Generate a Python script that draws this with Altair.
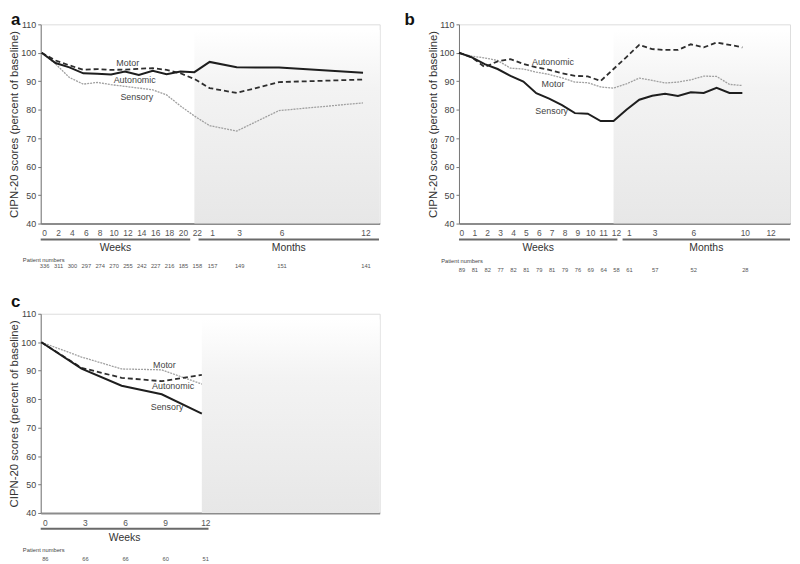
import altair as alt
import pandas as pd

FONT = "Liberation Sans"

# ---------------- Panel a (x index: weeks, then months) ----------------
a_x = [0, 2, 4, 6, 8, 10, 12, 14, 16, 18, 20, 22, 24.2, 28.1, 34.2, 46.3]
a_ticks = ["0", "2", "4", "6", "8", "10", "12", "14", "16", "18", "20", "22", "1", "3", "6", "12"]
a_motor = [100, 96.4, 94.9, 92.8, 92.6, 92.4, 93.4, 92.2, 93.7, 92.5, 93.4, 93.2, 96.8, 94.9, 94.8, 93.0]
a_auto = [100, 97.3, 95.6, 94.0, 94.3, 94.0, 94.1, 94.4, 94.6, 94.0, 92.8, 90.8, 87.6, 85.9, 89.7, 90.6]
a_sens = [100, 96.1, 91.3, 89.0, 89.6, 88.8, 88.2, 87.6, 87.0, 85.2, 81.3, 77.8, 74.4, 72.5, 79.7, 82.4]
a_patients = [336, 311, 300, 297, 274, 270, 255, 242, 227, 216, 185, 158, 157, 149, 151, 141]
a_labels = ["Motor", "Autonomic", "Sensory"]
a_label_x = [12.4, 13.4, 13.7]
a_label_v = [96.4, 90.5, 84.6]

# ---------------- Panel b ----------------
b_x = list(range(0, 13)) + [13, 14, 15, 16, 17, 18, 19, 20, 21, 22]
b_sens = [100, 98.4, 96.0, 94.3, 91.9, 89.9, 85.8, 83.9, 81.6, 78.8, 78.6, 76.0, 76.0,
          80.0, 83.5, 84.9, 85.6, 84.8, 86.1, 85.9, 87.7, 85.9, 85.9]
b_auto = [100, 98.4, 95.0, 97.0, 97.8, 96.1, 94.9, 94.0, 92.8, 91.9, 91.7, 90.1, 94.3,
          98.5, 102.8, 101.3, 101.0, 101.0, 103.0, 101.9, 103.6, 102.8, 101.9]
b_motor = [100, 98.8, 98.2, 97.3, 94.6, 94.3, 93.2, 92.4, 91.2, 89.7, 89.5, 88.0, 87.6,
           89.1, 91.1, 90.3, 89.4, 89.7, 90.5, 91.8, 91.7, 88.9, 88.5]
b_tick_x = list(range(0, 13)) + [13, 15, 18, 22, 24]
b_ticks = [str(i) for i in range(0, 13)] + ["1", "3", "6", "10", "12"]
b_pat_x = list(range(0, 13)) + [13, 15, 18, 22]
b_patients = [89, 81, 82, 77, 82, 81, 79, 81, 79, 76, 69, 64, 58, 61, 57, 52, 28]
b_labels = ["Autonomic", "Motor", "Sensory"]
b_label_x = [7.3, 7.3, 7.2]
b_label_v = [96.8, 89.1, 79.4]

# ---------------- Panel c ----------------
c_x = [0, 3, 6, 9, 12]
c_ticks = ["0", "3", "6", "9", "12"]
c_sens = [100, 90.7, 84.7, 81.7, 74.9]
c_motor = [100, 94.8, 90.6, 90.3, 85.3]
c_auto = [100, 91.0, 87.5, 86.3, 88.5]
c_patients = [86, 66, 66, 60, 51]
c_labels = ["Motor", "Autonomic", "Sensory"]
c_label_x = [9.2, 9.85, 9.4]
c_label_v = [91.9, 84.7, 77.2]

SOLID = dict(color="#1e1e1e", strokeWidth=2.0)
DASHED = dict(color="#2e2e2e", strokeWidth=1.8, strokeDash=[5, 3])
DOTTED = dict(color="#a0a0a0", strokeWidth=1.3, strokeDash=[2, 1])

H = 201


def panel(letter, xdom, width, series, labels, ticks, patients, spans, shade_from,
          pn_dy, num_dy, lab_dx=3):
    X = alt.X("x:Q", scale=alt.Scale(domain=xdom, nice=False, zero=False),
              axis=alt.Axis(labels=False, ticks=False, grid=False, title=None,
                            domainColor="#8c8c8c", domainWidth=2))
    Y = alt.Y("v:Q", scale=alt.Scale(domain=[40, 110], nice=False, zero=False),
              axis=alt.Axis(values=list(range(40, 111, 10)), grid=False,
                            title="CIPN-20 scores (percent of baseline)",
                            titleFontSize=11.5, titleFontWeight="normal", titleColor="#333",
                            titleX=-21, labelFontSize=9, labelColor="#444",
                            tickSize=3, tickColor="#777", domainColor="#777",
                            labelPadding=2))
    layers = []
    shade = pd.DataFrame({"x": [shade_from], "x2": [xdom[1]], "v": [40], "v2": [108]})
    grad = alt.Gradient(gradient="linear",
                        stops=[alt.GradientStop(color="#ffffff", offset=0),
                               alt.GradientStop(color="#f3f3f3", offset=0.3),
                               alt.GradientStop(color="#e7e7e7", offset=1)],
                        x1=0, x2=0, y1=0, y2=1)
    layers.append(alt.Chart(shade).mark_rect(color=grad).encode(x=X, x2="x2:Q", y=Y, y2="v2:Q"))
    for xs, vals, style in series:
        df = pd.DataFrame({"x": xs, "v": vals})
        layers.append(alt.Chart(df).mark_line(**style).encode(x=X, y=Y))
    names, lx, lv = labels
    ldf = pd.DataFrame({"x": lx, "v": lv, "t": names})
    layers.append(alt.Chart(ldf).mark_text(font=FONT, fontSize=9, color="#444").encode(
        x=X, y=Y, text="t:N"))
    # tick labels
    tx, tl = ticks
    tdf = pd.DataFrame({"x": tx, "t": tl})
    layers.append(alt.Chart(tdf).mark_text(font=FONT, fontSize=8.5, color="#555", dx=lab_dx,
                                           baseline="middle").encode(
        x=X, y=alt.value(H + 10), text="t:N"))
    # brackets and group names
    sdf = pd.DataFrame({"x": [s[0] for s in spans], "x2": [s[1] for s in spans],
                        "t": [s[2] for s in spans],
                        "xm": [(s[0] + s[1]) / 2 for s in spans]})
    layers.append(alt.Chart(sdf).mark_rule(color="#6a6a6a", strokeWidth=2).encode(
        x=X, x2="x2:Q", y=alt.value(H + 16)))
    layers.append(alt.Chart(sdf).mark_text(font=FONT, fontSize=10.5, color="#333",
                                           baseline="middle").encode(
        x=alt.X("xm:Q", scale=alt.Scale(domain=xdom, nice=False, zero=False)),
        y=alt.value(H + 25), text="t:N"))
    # patient numbers
    px, pv = patients
    pdf = pd.DataFrame({"x": px, "t": [str(p) for p in pv]})
    layers.append(alt.Chart(pd.DataFrame({"t": ["Patient numbers"]})).mark_text(
        font=FONT, fontSize=5.8, color="#444", align="left", baseline="middle").encode(
        x=alt.value(-18), y=alt.value(H + pn_dy), text="t:N"))
    layers.append(alt.Chart(pdf).mark_text(font=FONT, fontSize=5.8, color="#555", dx=lab_dx,
                                           baseline="middle").encode(
        x=X, y=alt.value(H + num_dy), text="t:N"))
    # panel letter
    layers.append(alt.Chart(pd.DataFrame({"t": [letter[0]]})).mark_text(
        font=FONT, fontSize=17, fontWeight="bold", color="#111", align="left",
        baseline="top").encode(x=alt.value(letter[1]), y=alt.value(letter[2]), text="t:N"))
    return alt.layer(*layers).properties(width=width, height=H)


pa = panel(("a", -30, -12), [-0.14, 48.7], 342,
           [(a_x, a_sens, DOTTED), (a_x, a_auto, DASHED), (a_x, a_motor, SOLID)],
           (a_labels, a_label_x, a_label_v),
           (a_x, a_ticks), (a_x, a_patients),
           [(-0.14, 21.4, "Weeks"), (22.6, 48.6, "Months")], 22, 36.5, 43)

pb = panel(("b", -55, -12), [0, 25.7], 334,
           [(b_x, b_motor, DOTTED), (b_x, b_auto, DASHED), (b_x, b_sens, SOLID)],
           (b_labels, b_label_x, b_label_v),
           (b_tick_x, b_ticks), (b_pat_x, b_patients),
           [(0, 12.3, "Weeks"), (12.7, 25.7, "Months")], 12, 37.5, 47)

pc = panel(("c", -30, -20), [-0.05, 25.3], 342,
           [(c_x, c_motor, DOTTED), (c_x, c_auto, DASHED), (c_x, c_sens, SOLID)],
           (c_labels, c_label_x, c_label_v),
           (c_x, c_ticks), (c_x, c_patients),
           [(-0.05, 12.5, "Weeks")], 12, 37, 46, lab_dx=4)

top = alt.hconcat(pa, pb, spacing=23)
chart = alt.vconcat(top, pc, spacing=18).properties(
    padding={"left": 0, "top": 0, "right": 0, "bottom": 0}
).configure_view(stroke=None).configure(font=FONT)

chart.save("out.html", embed_options={"renderer": "svg", "actions": False})
